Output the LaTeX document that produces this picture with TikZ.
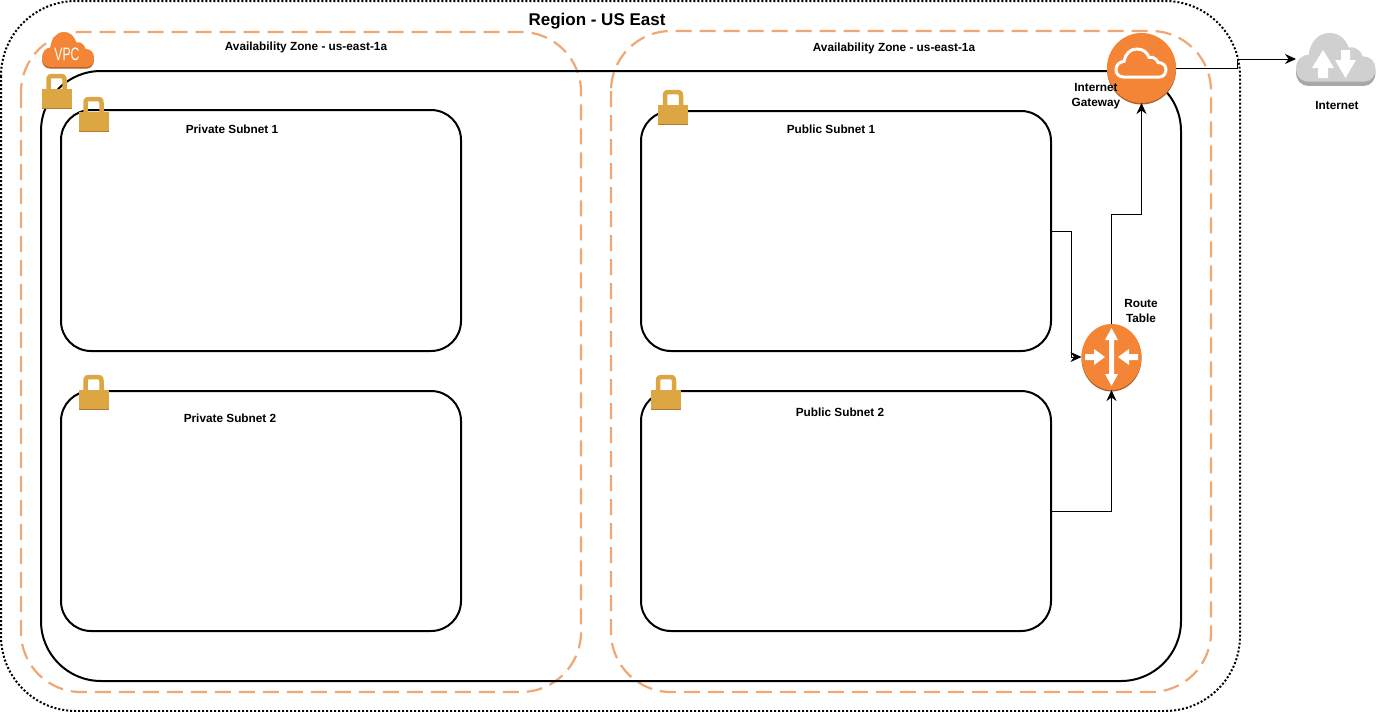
\documentclass[tikz,border=0pt]{standalone}
\usepackage{fontspec}
\setmainfont{Liberation Sans}
\usetikzlibrary{arrows.meta,shapes.geometric}

\definecolor{awsorange}{HTML}{F58536}
\definecolor{awsshadow}{HTML}{A9622B}
\definecolor{azdash}{HTML}{EFA874}
\definecolor{lockgold}{HTML}{DCA742}
\definecolor{cloudgrey}{HTML}{D0D0D0}
\definecolor{cloudshadow}{HTML}{A8A8A8}

\newcommand{\cloudpath}{(16,54) .. controls (6,54) and (0,48) .. (0,40) .. controls (0,30) and (8,24) .. (16,24) .. controls (18,10) and (28,0) .. (42,0) .. controls (54,0) and (62,6) .. (66,16) .. controls (74,14) and (82,20) .. (84,26) .. controls (94,26) and (100,32) .. (100,40) .. controls (100,48) and (94,54) .. (86,54) -- cycle}

\tikzset{every picture/.style={line width=0.75pt}}
\tikzset{
  regionbox/.style={draw=black,line width=2pt,dash pattern=on 2pt off 2pt,rounded corners=75pt},
  azbox/.style={draw=azdash,line width=2.2pt,dash pattern=on 16pt off 8pt,rounded corners=60pt},
  vpcbox/.style={draw=black,line width=2pt,rounded corners=60pt},
  subnet/.style={draw=black,line width=2pt,rounded corners=30pt,minimum width=#1,inner sep=0pt,outer sep=0pt},
  label/.style={font=\fontsize{11.8}{15}\selectfont\bfseries,inner sep=0.75pt,align=center},
  link/.style={draw=black,line width=1pt},
  linkarrow/.style={link,-{Stealth[length=11pt,width=10pt]}},
  roundicon/.style={ellipse,fill=awsorange,inner sep=0pt,outer sep=0pt},
  lock/.pic={
    \draw[draw=lockgold,line width=4.5pt] (7,-2) -- (7,9) .. controls (7,13) and (9,13) .. (12,13) -- (18,13) .. controls (21,13) and (23,13) .. (23,9) -- (23,-2);
    \fill[lockgold] (0,0) rectangle (30,-19);
    \fill[awsshadow!70!lockgold] (0,-18.5) rectangle (30,-19.5);
  }
}

\begin{document}
\begin{tikzpicture}[x=1pt,y=1pt,yscale=-1,xscale=1]
\useasboundingbox (0,0) rectangle (1376,712);
\fill[white] (0,0) rectangle (1376,712);

%Shape: Rounded Rect region
\draw[regionbox] (1,1) rectangle (1240,711);
%Shape: Rounded Rect availability zones
\draw[azbox] (21,32) rectangle (581,692);
\draw[azbox] (611,31) rectangle (1211,692);
%Shape: Rounded Rect vpc
\draw[vpcbox] (41,71) rectangle (1181,681);

%Subnets
\node (privatea) [subnet=400pt,minimum height=241pt] at (261,230.5) {};
\node (privateb) [subnet=400pt,minimum height=240pt] at (261,511) {};
\node (publica) [subnet=410pt,minimum height=240pt] at (846,231) {};
\node (publicb) [subnet=410pt,minimum height=240pt] at (846,511) {};

%Shape: VPC cloud
\fill[awsshadow,shift={(42,33.5)},xscale=.52,yscale=.65] \cloudpath;
\fill[awsorange,shift={(42,32)},xscale=.52,yscale=.65] \cloudpath;
\node (vpctext) [text=white,font=\fontsize{18}{18}\selectfont,xscale=.68,inner sep=0pt] at (67,54.5) {VPC};

%Shape: Locks
\pic at (41.5,89) {lock};
\pic at (78.5,112) {lock};
\pic at (78.5,390) {lock};
\pic at (658,105) {lock};
\pic at (651,390) {lock};

%Shape: Internet gateway
\fill[awsshadow] (1141.5,69.5) ellipse [x radius=34.5pt,y radius=35pt];
\node (igw) [roundicon,minimum width=69pt,minimum height=70pt] at (1141.5,68) {};
\draw[draw=white,line width=3pt,shift={(1116,49)},xscale=.5,yscale=.52] \cloudpath;

%Shape: Route table
\fill[awsshadow] (1111.5,358.5) ellipse [x radius=30pt,y radius=33pt];
\node (routetable) [roundicon,minimum width=60pt,minimum height=66pt] at (1111.5,357) {};
\fill[white] (1111.5,328) -- (1118,340) -- (1114,340) -- (1114,374) -- (1118,374) -- (1111.5,386) -- (1105,374) -- (1109,374) -- (1109,340) -- (1105,340) -- cycle;
\fill[white] (1105,357) -- (1094,349) -- (1094,354) -- (1085,354) -- (1085,360) -- (1094,360) -- (1094,365) -- cycle;
\fill[white] (1118,357) -- (1129,349) -- (1129,354) -- (1138,354) -- (1138,360) -- (1129,360) -- (1129,365) -- cycle;

%Shape: Internet cloud
\fill[cloudshadow,shift={(1296,34)},xscale=.795,yscale=.96] \cloudpath;
\fill[cloudgrey,shift={(1296,33)},xscale=.795,yscale=.9] \cloudpath;
\fill[white] (1323,50) -- (1334,68) -- (1328,68) -- (1328,78) -- (1318,78) -- (1318,68) -- (1312,68) -- cycle;
\fill[white] (1345.5,78) -- (1335,60) -- (1341,60) -- (1341,50) -- (1350,50) -- (1350,60) -- (1356,60) -- cycle;
\node (internet) [minimum width=80pt,minimum height=53pt,inner sep=0pt,outer sep=0pt] at (1336,59) {};

%Connectors
\coordinate (igwbend) at (1237,68);
\coordinate (routebend) at (1111.5,214);
\coordinate (routebendb) at (1141.5,214);
\coordinate (publicabend) at (1071,231);
\draw[linkarrow] (igw.east) -- (igwbend) |- (internet.west);
\draw[linkarrow] (routetable.north) -- (routebend) -- (routebendb) -- (igw.south);
\draw[linkarrow] (publica.east) -- (publicabend) |- (routetable.west);
\draw[linkarrow] (publicb.east) -| (routetable.south);

% Text Node
\node (regiontitle) [label,font=\fontsize{17}{18}\selectfont\bfseries] at (597,21) {Region - US East};
% Text Node
\node (azaname) [label] at (306,47) {Availability Zone - us-east-1a};
% Text Node
\node (azbname) [label] at (894,48) {Availability Zone - us-east-1a};
% Text Node
\node (privatealabel) [label] at (232,129) {Private Subnet 1};
% Text Node
\node (privateblabel) [label] at (230,418) {Private Subnet 2};
% Text Node
\node (publicalabel) [label] at (831,129.5) {Public Subnet 1};
% Text Node
\node (publicblabel) [label] at (840,412) {Public Subnet 2};
% Text Node
\node (igwlabel) [label] at (1096,96) {Internet\\Gateway};
% Text Node
\node (routelabel) [label] at (1141,311) {Route\\Table};
% Text Node
\node (internetlabel) [label] at (1337,105) {Internet};

\end{tikzpicture}
\end{document}
